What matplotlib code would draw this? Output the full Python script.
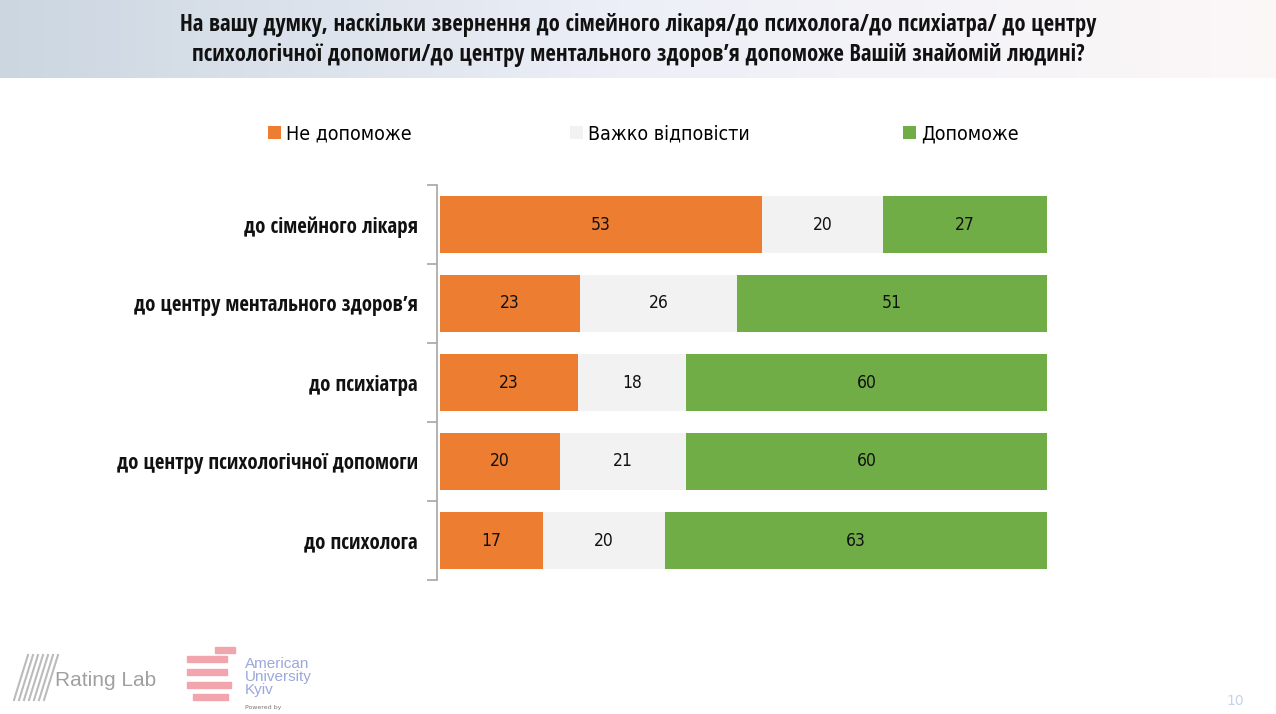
import matplotlib
matplotlib.use("Agg")
import matplotlib.pyplot as plt
import numpy as np
from matplotlib.patches import Rectangle
from matplotlib import font_manager as fm
from matplotlib.font_manager import FontProperties

def find_font(fname_part):
    for f in fm.fontManager.ttflist:
        if f.fname.endswith(fname_part):
            return f.fname
    return None

bold_path = find_font("OpenSans-CondBold.ttf")
reg_path = find_font("DejaVuSansCondensed.ttf")

def bold_fp(size):
    if bold_path:
        return FontProperties(fname=bold_path, size=size)
    return FontProperties(family="DejaVu Sans", weight="bold", stretch="condensed", size=size)

def reg_fp(size):
    if reg_path:
        return FontProperties(fname=reg_path, size=size)
    return FontProperties(family="DejaVu Sans", stretch="condensed", size=size)

categories = ["до сімейного лікаря", "до центру ментального здоров’я", "до психіатра",
              "до центру психологічної допомоги", "до психолога"]
series_names = ["Не допоможе", "Важко відповісти", "Допоможе"]
not_help = [53, 23, 23, 20, 17]
hard = [20, 26, 18, 21, 20]
help_ = [27, 51, 60, 60, 63]
colors = ["#ED7D31", "#F2F2F2", "#70AD47"]
title = ("На вашу думку, наскільки звернення до сімейного лікаря/до психолога/до психіатра/ до центру\n"
         "психологічної допомоги/до центру ментального здоров’я допоможе Вашій знайомій людині?")

W, H = 1276, 714
fig = plt.figure(figsize=(W / 100, H / 100), dpi=100)

# header gradient band
bg = fig.add_axes([0, 1 - 78 / H, 1, 78 / H])
grad = np.linspace(0, 1, 256)
c_left = np.array([0.80, 0.84, 0.88])
c_mid = np.array([0.93, 0.94, 0.97])
c_right = np.array([0.99, 0.97, 0.97])
img = np.zeros((1, 256, 3))
for i, t in enumerate(grad):
    if t < 0.5:
        img[0, i] = c_left + (c_mid - c_left) * (t / 0.5)
    else:
        img[0, i] = c_mid + (c_right - c_mid) * ((t - 0.5) / 0.5)
bg.imshow(img, aspect='auto', extent=[0, 1, 0, 1])
bg.set_axis_off()
fig.text(0.5, 1 - 40 / H, title, ha='center', va='center', fontproperties=bold_fp(16.3),
         color='#111111', linespacing=1.3)

# main axes
left, right = 440 / W, 1047 / W
top, bottom = 185 / H, 580 / H
ax = fig.add_axes([left, 1 - bottom, right - left, bottom - top])

data = np.array([not_help, hard, help_], dtype=float)
totals = data.sum(axis=0)
shares = data / totals * 100
y = np.arange(len(categories))
leftpos = np.zeros(len(categories))
handles = []
for k in range(3):
    h = ax.barh(y, shares[k], left=leftpos, height=0.71, color=colors[k],
                label=series_names[k], edgecolor='none')
    handles.append(h)
    for i in range(len(categories)):
        ax.text(leftpos[i] + shares[k][i] / 2, y[i], f"{int(data[k][i])}",
                ha='center', va='center', fontproperties=reg_fp(12.5), color='#111111')
    leftpos += shares[k]

ax.set_xlim(0, 100)
ax.set_ylim(len(categories) - 0.5, -0.5)
ax.set_yticks(np.arange(-0.5, len(categories)))
ax.set_yticklabels([])
ax.tick_params(axis='y', which='major', length=7, color='#A6A6A6', width=1.2)
ax.set_xticks([])
for s in ['top', 'right', 'bottom']:
    ax.spines[s].set_visible(False)
ax.spines['left'].set_color('#A6A6A6')
ax.spines['left'].set_linewidth(1.2)
ax.spines['left'].set_position(('outward', 2))

# category labels
lab_tr = matplotlib.transforms.blended_transform_factory(fig.transFigure, ax.transData)
for i, c in enumerate(categories):
    ax.text(418 / W, y[i], c, transform=lab_tr, ha='right', va='center_baseline',
            fontproperties=bold_fp(15), color='#111111')

# legend entries placed individually
leg_x = [268, 570, 903]
for k in range(3):
    fig.legend([handles[k]], [series_names[k]], loc='center left',
               bbox_to_anchor=(leg_x[k] / W, 1 - 134 / H), frameon=False,
               prop=reg_fp(14), handlelength=0.65, handleheight=0.65,
               handletextpad=0.3, borderpad=0, borderaxespad=0)

# footer logos
for j in range(7):
    x0 = 14 + j * 5
    fig.add_artist(plt.Line2D([(x0) / W, (x0 + 14) / W], [1 - 700 / H, 1 - 655 / H],
                              color='#BBBBBB', lw=1.5))
fig.text(55 / W, 1 - 681 / H, "Rating Lab", fontsize=15, color='#A0A0A0',
         ha='left', va='center', family=['Liberation Sans', 'DejaVu Sans'])
rows = [(215, 653, 20), (187, 662, 40), (187, 675, 40), (187, 688, 44), (193, 700, 35)]
for xr, yr, wr in rows:
    fig.add_artist(Rectangle((xr / W, 1 - yr / H), wr / W, 6 / H, color='#F2A5AC',
                             transform=fig.transFigure))
fig.text(245 / W, 1 - 677 / H, "American\nUniversity\nKyiv", fontsize=11, color='#9BA8DA',
         ha='left', va='center', linespacing=0.9, family=['Liberation Sans', 'DejaVu Sans'])
fig.text(245 / W, 1 - 707 / H, "Powered by", fontsize=4.5, color='#777777', ha='left', va='center')
fig.text(1235 / W, 1 - 701 / H, "10", fontsize=10, color='#C5D3E8', ha='center', va='center')

fig.savefig("out.png", dpi=100)
